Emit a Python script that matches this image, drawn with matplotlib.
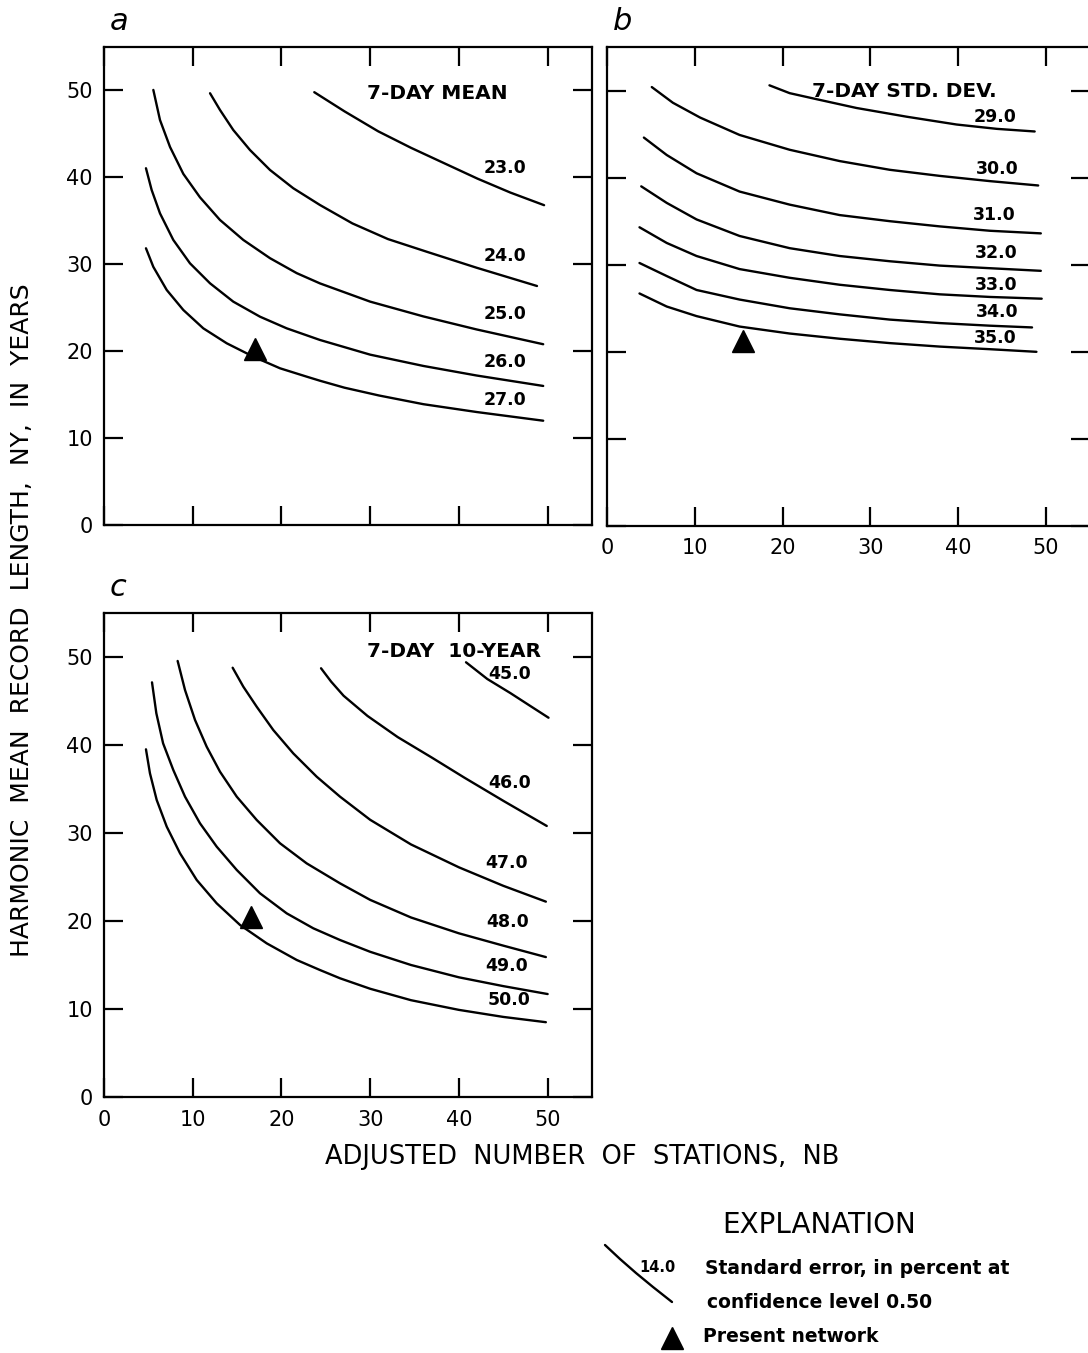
import numpy as np
import matplotlib
matplotlib.use("Agg")
import matplotlib.pyplot as plt

plt.rcParams['font.family'] = ['DejaVu Sans']

# ---- panel a : 7-day mean ----
a_levels = ["23.0", "24.0", "25.0", "26.0", "27.0"]
a_x = [
    [23.7, 27.1, 30.9, 34.6, 38.4, 42.1, 45.8, 49.6],
    [11.95, 13.07, 14.57, 16.45, 18.71, 21.33, 24.34, 28.0, 32.0, 36.5, 42.0, 48.8],
    [5.56, 6.31, 7.44, 8.94, 10.82, 13.07, 15.70, 18.71, 21.72, 24.34, 30.0, 36.0, 42.0, 49.5],
    [4.73, 5.37, 6.31, 7.81, 9.69, 11.95, 14.57, 17.58, 20.59, 24.34, 30.0, 36.0, 42.0, 49.5],
    [4.73, 5.56, 7.07, 8.94, 11.19, 13.83, 16.83, 19.84, 22.84, 24.34, 27.1, 31.0, 36.0, 42.0, 49.5],
]
a_y = [
    [49.8, 47.6, 45.3, 43.4, 41.6, 39.85, 38.25, 36.8],
    [49.68, 47.76, 45.45, 43.15, 40.85, 38.75, 36.82, 34.7, 32.9, 31.4, 29.6, 27.5],
    [50.06, 46.6, 43.5, 40.4, 37.7, 35.1, 32.8, 30.7, 28.98, 27.8, 25.7, 24.0, 22.5, 20.8],
    [41.05, 38.55, 35.86, 32.80, 30.11, 27.81, 25.70, 23.97, 22.63, 21.29, 19.6, 18.3, 17.2, 16.0],
    [31.84, 29.7, 27.04, 24.74, 22.63, 20.91, 19.37, 18.03, 17.07, 16.6, 15.8, 14.9, 13.9, 13.0, 12.0],
]
a_lab_x = [45.2, 45.2, 45.2, 45.2, 45.2]
a_lab_y = [41.1, 31.0, 24.3, 18.7, 14.4]
a_net = (17.0, 20.3)

# ---- panel b : 7-day standard deviation ----
b_levels = ["29.0", "30.0", "31.0", "32.0", "33.0", "34.0", "35.0"]
b_x = [
    [18.5, 20.8, 23.9, 28.4, 34.1, 39.8, 44.4, 48.7],
    [5.1, 7.5, 10.6, 15.1, 20.8, 26.5, 32.2, 37.9, 43.6, 49.1],
    [4.2, 6.8, 10.2, 15.1, 20.8, 26.5, 32.2, 37.9, 43.6, 49.4],
    [3.9, 6.8, 10.2, 15.1, 20.8, 26.5, 32.2, 37.9, 43.6, 49.4],
    [3.7, 6.8, 10.2, 15.1, 20.8, 26.5, 32.2, 37.9, 43.6, 49.5],
    [3.7, 6.8, 10.2, 15.1, 20.8, 26.5, 32.2, 37.9, 43.6, 48.4],
    [3.7, 6.8, 10.2, 15.1, 20.8, 26.5, 32.2, 37.9, 43.6, 48.9],
]
b_y = [
    [50.6, 49.7, 49.0, 48.0, 47.0, 46.1, 45.6, 45.3],
    [50.4, 48.6, 46.9, 44.9, 43.2, 41.9, 40.9, 40.2, 39.6, 39.1],
    [44.6, 42.6, 40.5, 38.4, 36.9, 35.7, 35.0, 34.4, 33.9, 33.6],
    [39.0, 37.1, 35.2, 33.3, 31.9, 31.0, 30.4, 29.9, 29.6, 29.3],
    [34.3, 32.5, 31.0, 29.5, 28.5, 27.7, 27.1, 26.6, 26.3, 26.1],
    [30.2, 28.7, 27.1, 26.0, 25.0, 24.3, 23.7, 23.3, 23.0, 22.8],
    [26.7, 25.2, 24.1, 22.9, 22.1, 21.5, 21.0, 20.6, 20.3, 20.0],
]
b_lab_x = [44.2, 44.4, 44.1, 44.3, 44.3, 44.4, 44.2]
b_lab_y = [47.0, 41.0, 35.7, 31.3, 27.7, 24.6, 21.6]
b_net = (15.5, 21.2)

# ---- panel c : 7-day 10-year ----
c_levels = ["45.0", "46.0", "47.0", "48.0", "49.0", "50.0"]
c_x = [
    [40.8, 43.2, 45.8, 48.1, 50.1],
    [24.46, 25.6, 27.0, 29.7, 33.1, 36.9, 40.6, 45.1, 49.9],
    [14.50, 15.70, 17.21, 19.08, 21.33, 23.97, 26.60, 30.0, 34.6, 40.0, 45.0, 49.8],
    [8.30, 9.13, 10.26, 11.57, 13.07, 14.96, 17.21, 19.84, 22.84, 26.60, 30.0, 34.6, 40.0, 45.0, 49.8],
    [5.41, 5.90, 6.66, 7.81, 9.13, 10.82, 12.70, 14.96, 17.58, 20.59, 23.59, 26.60, 30.0, 34.6, 40.0, 45.0, 50.0],
    [4.73, 5.18, 5.94, 7.07, 8.57, 10.45, 12.70, 15.33, 18.34, 21.72, 24.34, 26.60, 30.0, 34.6, 40.0, 45.0, 49.8],
]
c_y = [
    [49.4, 47.5, 45.9, 44.4, 43.1],
    [48.72, 47.2, 45.6, 43.3, 40.9, 38.6, 36.3, 33.6, 30.8],
    [48.78, 46.63, 44.35, 41.70, 39.05, 36.40, 34.13, 31.5, 28.7, 26.1, 24.0, 22.2],
    [49.55, 46.25, 42.84, 39.81, 36.97, 34.13, 31.48, 28.83, 26.55, 24.28, 22.4, 20.4, 18.6, 17.2, 15.9],
    [47.12, 43.6, 40.19, 37.16, 34.13, 31.10, 28.45, 25.80, 23.15, 20.87, 19.17, 17.84, 16.5, 15.0, 13.6, 12.6, 11.7],
    [39.51, 36.78, 33.75, 30.72, 27.69, 24.66, 22.01, 19.55, 17.46, 15.57, 14.43, 13.49, 12.3, 11.0, 9.9, 9.1, 8.5],
]
c_lab_x = [45.7, 45.7, 45.4, 45.5, 45.4, 45.7]
c_lab_y = [48.1, 35.7, 26.6, 19.9, 14.9, 11.0]
c_net = (16.6, 20.4)

ticks = [0, 10, 20, 30, 40, 50]

W, H = 1088, 1353
fig = plt.figure(figsize=(W / 100, H / 100), dpi=100)


def panel(rect, xs, ys, levels, lx, ly, net, title, title_xy, letter):
    ax = fig.add_axes(rect)
    ax.set_xlim(0, 55)
    ax.set_ylim(0, 55)
    ax.set_xticks(ticks)
    ax.set_yticks(ticks)
    ax.tick_params(direction='in', length=14, width=1.6, top=True, right=True,
                   labelsize=15)
    ax.tick_params(axis='x', pad=9)
    ax.tick_params(axis='y', pad=8)
    for s in ax.spines.values():
        s.set_linewidth(1.6)
    for x, y in zip(xs, ys):
        ax.plot(x, y, color='black', lw=1.7, solid_capstyle='round',
                solid_joinstyle='round')
    for t, x, y in zip(levels, lx, ly):
        ax.text(x, y, t, fontsize=12.5, fontweight='bold', ha='center', va='center')
    ax.plot(net[0], net[1], marker='^', ms=16, color='black')
    ax.text(title_xy[0], title_xy[1], title, fontsize=14.5, fontweight='bold',
            ha='center', va='center')
    ax.text(0.012, 1.022, letter, transform=ax.transAxes, fontsize=22,
            fontstyle='italic', ha='left', va='bottom')
    return ax


ax_a = panel([104 / W, 1 - 525 / H, 488 / W, 478 / H], a_x, a_y, a_levels,
             a_lab_x, a_lab_y, a_net, "7-DAY MEAN", (37.6, 49.6), "a")
ax_a.tick_params(labelbottom=False)

ax_b = panel([607 / W, 1 - 526 / H, 483 / W, 479 / H], b_x, b_y, b_levels,
             b_lab_x, b_lab_y, b_net, "7-DAY STD. DEV.", (33.9, 49.9), "b")
ax_b.tick_params(labelleft=False)

ax_c = panel([104 / W, 1 - 1097 / H, 488 / W, 484 / H], c_x, c_y, c_levels,
             c_lab_x, c_lab_y, c_net, "7-DAY  10-YEAR", (39.4, 50.6), "c")

fig.text(22 / W, 1 - 620 / H, "HARMONIC  MEAN  RECORD  LENGTH,  NY,  IN  YEARS",
         rotation=90, fontsize=18, ha='center', va='center')
fig.text(582 / W, 1 - 1157 / H, "ADJUSTED  NUMBER  OF  STATIONS,  NB",
         fontsize=18.5, ha='center', va='center')

# ---- explanation ----
lx = fig.add_axes([0, 0, 1, 1])
lx.set_xlim(0, W)
lx.set_ylim(H, 0)
lx.axis('off')
lx.text(819, 1225, "EXPLANATION", fontsize=20, ha='center', va='center')
key_x = [605, 620, 636, 653, 672]
key_y = [1245, 1259, 1273, 1287, 1302]
lx.plot(key_x, key_y, color='black', lw=1.7, solid_capstyle='round',
        solid_joinstyle='round')
lx.text(657, 1268, "14.0", fontsize=10.5, fontweight='bold', ha='center', va='center')
lx.text(705, 1268, "Standard error, in percent at", fontsize=13.5,
        fontweight='bold', ha='left', va='center')
lx.text(707, 1302, "confidence level 0.50", fontsize=13.5,
        fontweight='bold', ha='left', va='center')
lx.plot(672, 1338, marker='^', ms=16, color='black')
lx.text(703, 1337, "Present network", fontsize=13.5, fontweight='bold',
        ha='left', va='center')

fig.savefig("out.png", dpi=100)
